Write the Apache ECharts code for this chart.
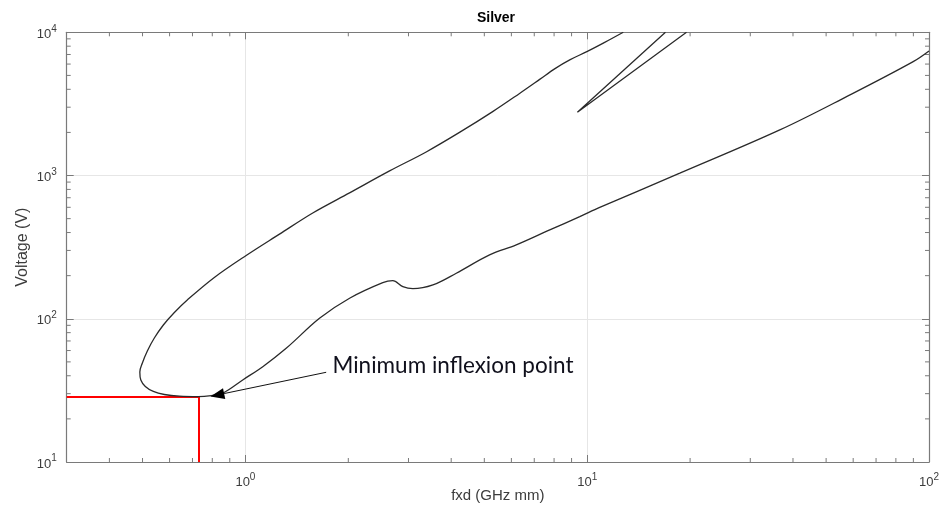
<!DOCTYPE html>
<html><head><meta charset="utf-8">
<script src="https://cdn.jsdelivr.net/npm/echarts@6/dist/echarts.min.js"></script>
<style>html,body{margin:0;padding:0;background:#fff}#c{width:945px;height:510px}</style>
</head><body><div id="c"></div>
<script>
// Paschen-type curve (upper branch top -> minimum -> lower branch), fxd in GHz mm, voltage in V
const curveX = [12.75, 11.25, 10.01, 8.89, 8.05, 7.26, 6.34, 5.29, 4.23, 3.38, 2.641, 2.017, 1.574, 1.258, 1.005, 0.811,
                0.676, 0.6196, 0.5753, 0.5414, 0.5165, 0.4995, 0.491, 0.4943, 0.5095, 0.5378, 0.579, 0.641, 0.728,
                0.795, 0.858, 0.982, 1.124, 1.316, 1.647, 2.017, 2.523, 2.70, 2.888, 3.09, 3.537, 4.14, 5.18, 6.20, 7.77, 9.51, 10.88, 18.66, 36.6, 57.4, 89.9, 100];
const curveY = [10000, 8500, 7355, 6420, 5580, 4691, 3744, 2794, 2000, 1461, 1077, 757, 548, 390, 276.7, 194.3,
                135.3, 110.7, 90.5, 73.4, 59.6, 49.1, 42.5, 37.4, 33.7, 31.1, 29.6, 28.8, 28.6,
                29.1, 30.2, 37.4, 46.3, 62.2, 100.8, 139.1, 178.7, 184.5, 167.6, 162.3, 172.2, 207.8, 279.0, 327.6, 417.0, 516.4, 598.6, 1038, 2082, 3556, 6243, 7413];
// separate spur near 10 GHz mm
const spurX = [16.94, 9.36, 19.52];
const spurY = [10000, 2768, 10000];
// minimum inflexion point
const minX = 0.728, minY = 28.6;
// annotation arrow (start near the text, tip at the minimum)
const arrowFrom = [1.723, 42.3], arrowTip = [0.790, 28.7];
const annoText = 'Minimum inflexion point';
const annoAt = [1.798, 46.8];
// axes
const xMin = 0.3, xMax = 100, yMin = 10, yMax = 10000;
const xMinor = [], yMinor = [];
[0.1, 1, 10].forEach(p => { for (let k = 2; k <= 9; k++) { const v = +(k * p).toPrecision(3); if (v > xMin && v < xMax) xMinor.push(v); } });
[10, 100, 1000].forEach(p => { for (let k = 2; k <= 9; k++) { const v = k * p; if (v > yMin && v < yMax) yMinor.push(v); } });

const AX = '#7a7a7a', LBL = '#3c3c3c', GRID = '#e6e6e6', FONT = 'Liberation Sans';
const fmt = v => '{b|10}{s|' + Math.round(Math.log10(v)) + '}';
const rich = {
  b: { fontSize: 13, color: LBL, fontFamily: FONT, verticalAlign: 'bottom' },
  s: { fontSize: 10, color: LBL, fontFamily: FONT, verticalAlign: 'bottom', padding: [0, 0, 7, 0] }
};
function xAxisCfg(pos, main) {
  return {
    type: 'log', logBase: 10, min: xMin, max: xMax, position: pos,
    axisLine: { show: true, onZero: false, lineStyle: { color: AX, width: 1.2 } },
    axisTick: { show: true, inside: true, length: 7, lineStyle: { color: AX, width: 1 } },
    splitLine: { show: main, lineStyle: { color: GRID, width: 1 } },
    axisLabel: { show: main, formatter: fmt, rich: rich, margin: 10, showMinLabel: false },
    name: main ? 'fxd (GHz mm)' : '', nameLocation: 'middle', nameGap: 26, nameMoveOverlap: false,
    nameTextStyle: { fontFamily: FONT, fontSize: 15, color: LBL }
  };
}
function yAxisCfg(pos, main) {
  return {
    type: 'log', logBase: 10, min: yMin, max: yMax, position: pos,
    axisLine: { show: true, onZero: false, lineStyle: { color: AX, width: 1.2 } },
    axisTick: { show: true, inside: true, length: 7, lineStyle: { color: AX, width: 1 } },
    splitLine: { show: main, lineStyle: { color: GRID, width: 1 } },
    axisLabel: { show: main, formatter: fmt, rich: rich, margin: 10 },
    name: main ? 'Voltage (V)' : '', nameLocation: 'middle', nameGap: 36, nameMoveOverlap: false,
    nameTextStyle: { fontFamily: FONT, fontSize: 16, color: LBL }
  };
}
const tickLen = 4;
const chart = echarts.init(document.getElementById('c'), null, { renderer: 'canvas' });
chart.setOption({
  animation: false,
  backgroundColor: '#fff',
  title: { text: 'Silver', left: 491, top: 6, textAlign: 'center',
    textStyle: { fontFamily: FONT, fontSize: 14, fontWeight: 'bold', color: '#000' } },
  grid: { left: 66.7, right: 16, top: 32.3, bottom: 48, containLabel: false, outerBoundsMode: 'none' },
  xAxis: [xAxisCfg('bottom', true), xAxisCfg('top', false)],
  yAxis: [yAxisCfg('left', true), yAxisCfg('right', false)],
  series: [
    { type: 'line', data: curveX.map((x, i) => [x, curveY[i]]), showSymbol: false, smooth: 0.35,
      lineStyle: { color: '#2a2a2a', width: 1.3 }, clip: true, z: 5 },
    { type: 'line', data: spurX.map((x, i) => [x, spurY[i]]), showSymbol: false,
      lineStyle: { color: '#2a2a2a', width: 1.3 }, clip: true, z: 5 },
    { type: 'line', data: [], silent: true, z: 6,
      markLine: { silent: true, symbol: 'none', animation: false, label: { show: false },
        lineStyle: { color: '#ff0000', width: 2, type: 'solid' },
        data: [
          [{ coord: [xMin, minY] }, { coord: [minX, minY] }],
          [{ coord: [minX, yMin] }, { coord: [minX, minY] }]
        ] },
      markPoint: { silent: true, symbol: 'circle', symbolSize: 0, animation: false,
        label: { show: true, position: 'right', distance: 0, formatter: annoText,
          fontFamily: 'Lato', fontSize: 22.5, color: '#10101c' },
        data: [{ coord: annoAt }] } },
    { type: 'custom', coordinateSystem: 'cartesian2d', silent: true, z: 7,
      data: [[arrowFrom[0], arrowFrom[1], arrowTip[0], arrowTip[1]]],
      encode: { x: [0, 2], y: [1, 3] },
      renderItem: (params, api) => {
        const p0 = api.coord([api.value(0), api.value(1)]);
        const p1 = api.coord([api.value(2), api.value(3)]);
        const dx = p1[0] - p0[0], dy = p1[1] - p0[1], L = Math.hypot(dx, dy);
        const ux = dx / L, uy = dy / L, hl = 14, hw = 5.5;
        const bx = p1[0] - ux * hl, by = p1[1] - uy * hl;
        return { type: 'group', children: [
          { type: 'line', shape: { x1: p0[0], y1: p0[1], x2: bx, y2: by }, style: { stroke: '#111', lineWidth: 1 } },
          { type: 'polygon', shape: { points: [[p1[0], p1[1]], [bx - uy * hw, by + ux * hw], [bx + uy * hw, by - ux * hw]] },
            style: { fill: '#000' } }
        ] };
      } },
    { type: 'custom', coordinateSystem: 'cartesian2d', silent: true, z: 4,
      data: xMinor.map(v => [v, yMin]),
      renderItem: (params, api) => {
        const b = api.coord([api.value(0), yMin]);
        const t = api.coord([api.value(0), yMax]);
        const st = { stroke: AX, lineWidth: 1 };
        return { type: 'group', children: [
          { type: 'line', shape: { x1: b[0], y1: b[1], x2: b[0], y2: b[1] - tickLen }, style: st },
          { type: 'line', shape: { x1: t[0], y1: t[1], x2: t[0], y2: t[1] + tickLen }, style: st }
        ] };
      } },
    { type: 'custom', coordinateSystem: 'cartesian2d', silent: true, z: 4,
      data: yMinor.map(v => [xMin, v]),
      renderItem: (params, api) => {
        const l = api.coord([xMin, api.value(1)]);
        const r = api.coord([xMax, api.value(1)]);
        const st = { stroke: AX, lineWidth: 1 };
        return { type: 'group', children: [
          { type: 'line', shape: { x1: l[0], y1: l[1], x2: l[0] + tickLen, y2: l[1] }, style: st },
          { type: 'line', shape: { x1: r[0], y1: r[1], x2: r[0] - tickLen, y2: r[1] }, style: st }
        ] };
      } }
  ]
});
</script></body></html>
